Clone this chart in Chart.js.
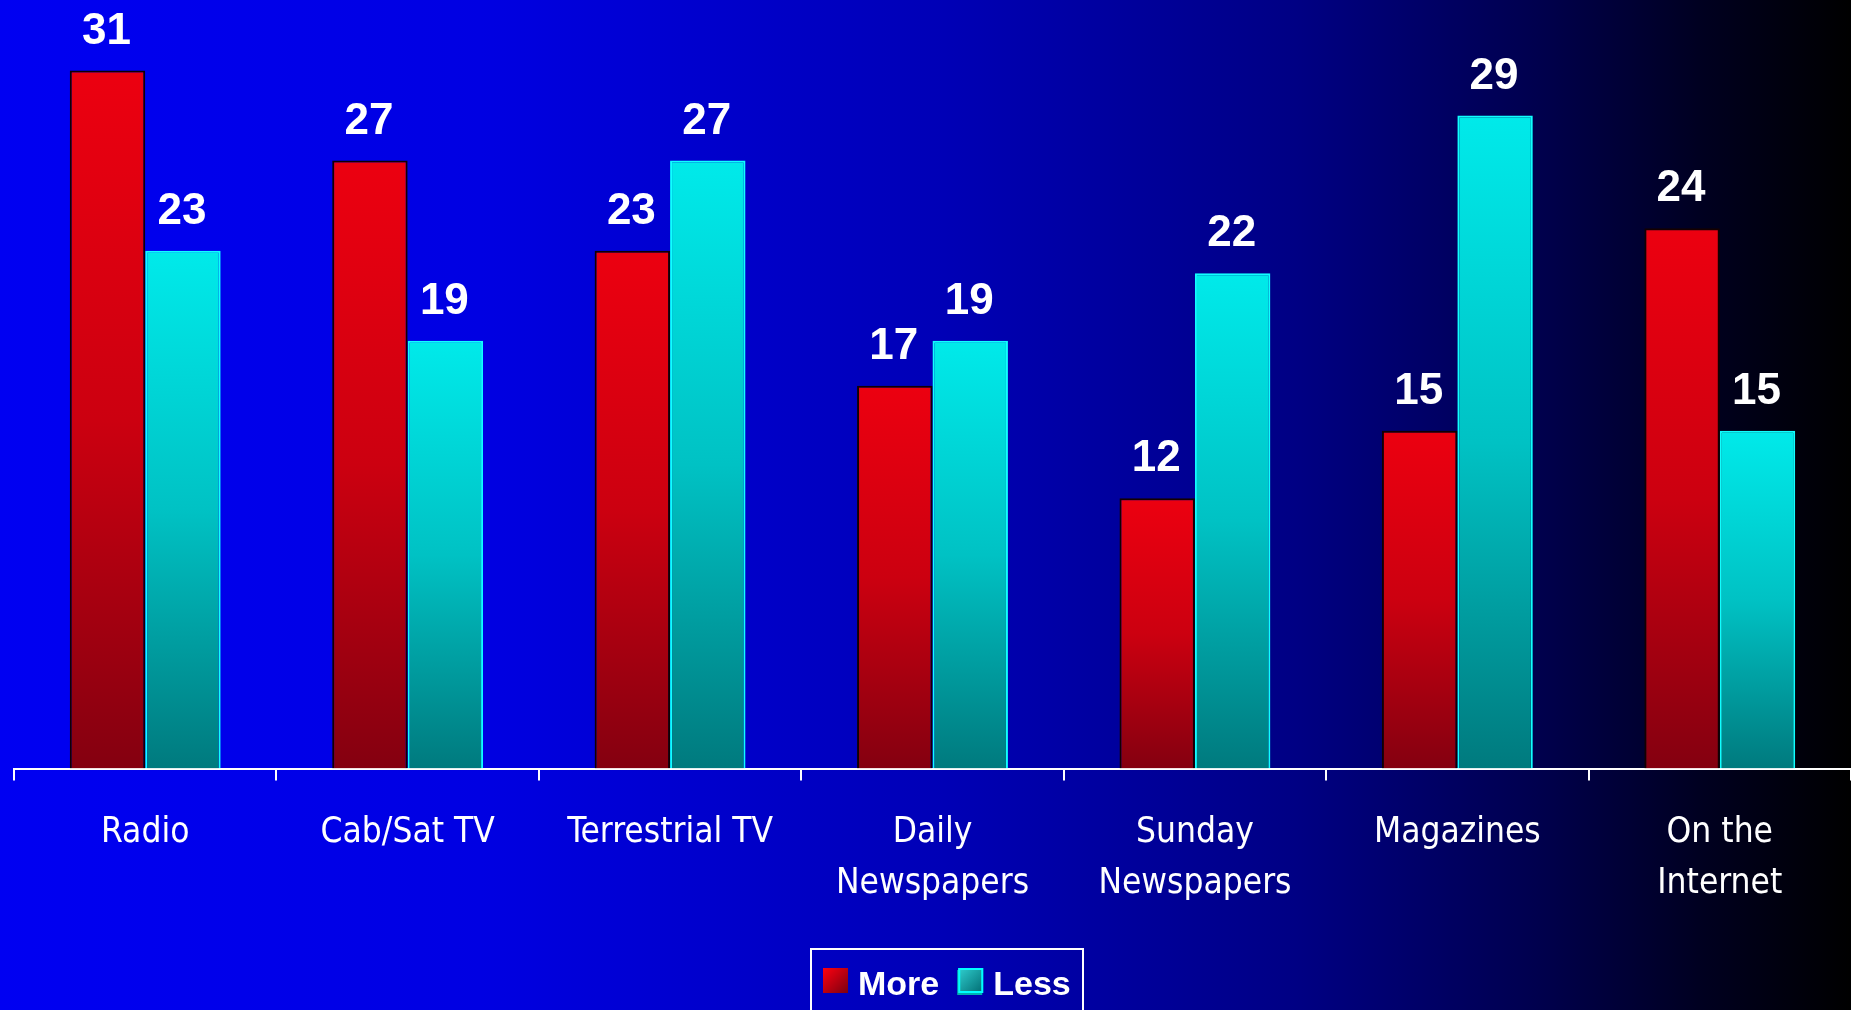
<!DOCTYPE html>
<html>
<head>
<meta charset="utf-8">
<title>More / Less</title>
<script src="https://cdn.jsdelivr.net/npm/chart.js@4.4.1/dist/chart.umd.min.js"></script>
<style>
  html, body { margin: 0; padding: 0; overflow: hidden; }
  #wrap {
    width: 1851px;
    height: 1010px;
    background: linear-gradient(to right, #0000f2 0%, #0000e2 26%, #0000b6 51%, #000084 70%, #00004e 83%, #000020 92%, #000000 100%);
  }
</style>
</head>
<body>
<div id="wrap"><canvas id="chart" width="1851" height="1010"></canvas></div>
<script>
const categories = [['Radio'], ['Cab/Sat TV'], ['Terrestrial TV'], ['Daily', 'Newspapers'], ['Sunday', 'Newspapers'], ['Magazines'], ['On the', 'Internet']];
const moreValues = [31, 27, 23, 17, 12, 15, 24];
const lessValues = [23, 19, 27, 19, 22, 29, 15];
const seriesNames = ['More', 'Less'];

const redStops = [[0, '#ec0010'], [0.5, '#cc0010'], [1, '#840010']];
const cyanStops = [[0, '#00eaea'], [0.5, '#00c2c4'], [1, '#007a7e']];

// per-bar vertical gradient, from the bar top down to the baseline
function barFill(stops) {
  return function (ctx) {
    const chart = ctx.chart;
    const y = chart.scales.y;
    if (!chart.chartArea || !y || ctx.raw == null) return stops[1][1];
    const top = y.getPixelForValue(ctx.raw);
    const base = y.getPixelForValue(0);
    const g = chart.ctx.createLinearGradient(0, top, 0, base);
    stops.forEach(s => g.addColorStop(s[0], s[1]));
    return g;
  };
}

// white numbers over every bar
const valueLabels = {
  id: 'valueLabels',
  afterDatasetsDraw(chart) {
    const c = chart.ctx;
    c.save();
    c.fillStyle = '#ffffff';
    c.font = 'bold 44px "Liberation Sans", Arial, sans-serif';
    c.textAlign = 'center';
    c.textBaseline = 'alphabetic';
    chart.data.datasets.forEach((ds, i) => {
      chart.getDatasetMeta(i).data.forEach((bar, j) => {
        c.fillText(String(ds.data[j]), bar.x - 1, bar.y - 27);
      });
    });
    c.restore();
  }
};

// boxed legend at the bottom, partly cut off by the page edge
const boxLegend = {
  id: 'boxLegend',
  afterDraw(chart) {
    const c = chart.ctx;
    const left = 811, top = 949, size = 25;
    c.save();
    c.strokeStyle = '#ffffff';
    c.lineWidth = 2;
    c.strokeRect(left, top, 272, 90);
    c.font = 'bold 34px "Liberation Sans", Arial, sans-serif';
    c.textBaseline = 'alphabetic';
    c.fillStyle = '#ffffff';
    let x = left + 12;
    const my = 968;
    chart.data.datasets.forEach((ds, i) => {
      const g = c.createLinearGradient(x, my, x + size, my + size);
      if (i === 0) {
        g.addColorStop(0, '#ff0010');
        g.addColorStop(1, '#7a0010');
        c.fillStyle = g;
        c.fillRect(x, my, size, size);
      } else {
        g.addColorStop(0, '#30d0d0');
        g.addColorStop(1, '#006a70');
        c.fillStyle = '#00b0b0';
        c.fillRect(x - 1, my + 2, size, size);
        c.fillStyle = g;
        c.fillRect(x, my, size, size);
        c.strokeStyle = '#00ffff';
        c.lineWidth = 2;
        c.strokeRect(x + 1, my + 1, size - 2, size - 2);
      }
      c.fillStyle = '#ffffff';
      c.fillText(ds.label, x + size + 10, 995);
      x += size + 10 + c.measureText(ds.label).width + 19;
    });
    c.restore();
  }
};

new Chart(document.getElementById('chart'), {
  type: 'bar',
  data: {
    labels: categories,
    datasets: [
      {
        label: seriesNames[0],
        data: moreValues,
        backgroundColor: barFill(redStops),
        borderColor: '#140000',
        borderWidth: 2
      },
      {
        label: seriesNames[1],
        data: lessValues,
        backgroundColor: barFill(cyanStops),
        borderColor: '#10ffff',
        borderWidth: 2
      }
    ]
  },
  options: {
    responsive: false,
    animation: false,
    devicePixelRatio: 1,
    layout: { padding: { top: 3, left: 14, right: 0, bottom: 0 } },
    datasets: {
      bar: { barPercentage: 1, categoryPercentage: 0.575 }
    },
    scales: {
      x: {
        grid: {
          display: true,
          drawOnChartArea: false,
          drawTicks: true,
          tickLength: 12,
          color: '#ffffff',
          lineWidth: 2,
          offset: true
        },
        border: { display: true, color: '#ffffff', width: 2 },
        ticks: {
          color: '#ffffff',
          autoSkip: false,
          maxRotation: 0,
          padding: 27,
          font: { family: "'DejaVu Sans Condensed', 'DejaVu Sans', sans-serif", size: 35, lineHeight: 1.46 }
        },
        afterFit(scale) {
          scale.height = 241.5;
        }
      },
      y: {
        display: false,
        min: 0,
        max: 34
      }
    },
    plugins: {
      legend: { display: false },
      tooltip: { enabled: false }
    }
  },
  plugins: [valueLabels, boxLegend]
});
</script>
</body>
</html>
